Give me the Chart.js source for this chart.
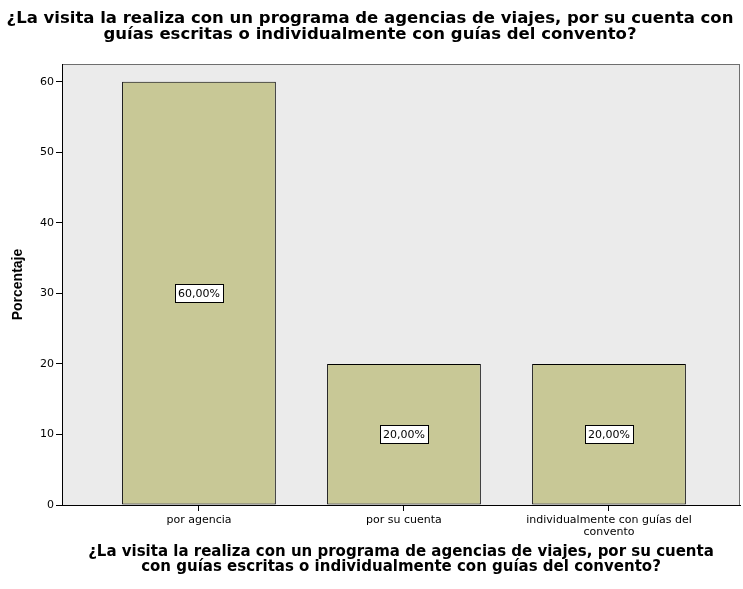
<!DOCTYPE html>
<html lang="es">
<head>
    <meta charset="UTF-8">
    <title>Visita convento</title>
    <script src="https://cdn.jsdelivr.net/npm/chart.js"></script>
    <style>
        html, body { margin: 0; padding: 0; background: #ffffff; }
        #wrap { width: 743px; height: 589px; }
    </style>
</head>
<body>
    <div id="wrap"><canvas id="chart" width="743" height="589"></canvas></div>

    <script>
        // Datos
        const categories = [
            'por agencia',
            'por su cuenta',
            ['individualmente con guías del', 'convento']
        ];
        const percentages = [60, 20, 20];
        const valueLabels = ['60,00%', '20,00%', '20,00%'];
        const yTicks = [0, 10, 20, 30, 40, 50, 60];

        const FONT = '"DejaVu Sans", "Liberation Sans", Arial, sans-serif';
        const BOLD_FONT = '"Liberation Sans", Arial, sans-serif';

        // Fondo gris del área de trazado
        const plotBackground = {
            id: 'plotBackground',
            beforeDraw(chart) {
                const { ctx, chartArea: a } = chart;
                ctx.save();
                ctx.fillStyle = '#ebebeb';
                ctx.fillRect(a.left, a.top, a.right - a.left, a.bottom - a.top);
                ctx.strokeStyle = '#6e6e6e';
                ctx.lineWidth = 1;
                ctx.strokeRect(a.left + 0.5, a.top + 0.5, a.right - a.left - 1, a.bottom - a.top);
                ctx.restore();
            }
        };

        // Etiquetas de porcentaje en cajas blancas en el centro de cada barra
        const boxLabels = {
            id: 'boxLabels',
            afterDatasetsDraw(chart) {
                const { ctx } = chart;
                const meta = chart.getDatasetMeta(0);
                ctx.save();
                ctx.font = '11px ' + FONT;
                ctx.textAlign = 'center';
                ctx.textBaseline = 'middle';
                meta.data.forEach((bar, i) => {
                    const cx = bar.x;
                    const cy = (bar.y + bar.base) / 2;
                    const text = valueLabels[i];
                    const w = Math.round(ctx.measureText(text).width + 6);
                    const h = 18;
                    const x0 = Math.round(cx - w / 2) + 0.5;
                    const y0 = Math.round(cy - h / 2) + 0.5;
                    ctx.fillStyle = '#ffffff';
                    ctx.fillRect(x0, y0, w, h);
                    ctx.strokeStyle = '#000000';
                    ctx.lineWidth = 1;
                    ctx.strokeRect(x0, y0, w, h);
                    ctx.fillStyle = '#000000';
                    ctx.fillText(text, cx, cy + 1);
                });
                ctx.restore();
            }
        };

        new Chart(document.getElementById('chart').getContext('2d'), {
            type: 'bar',
            data: {
                datasets: [{
                    data: percentages.map((v, i) => ({ x: i, y: v })),
                    backgroundColor: '#c8c896',
                    borderColor: '#000000',
                    borderWidth: 1,
                    borderSkipped: false,
                    categoryPercentage: 1,
                    barPercentage: 0.75
                }]
            },
            options: {
                responsive: false,
                animation: false,
                layout: { padding: { left: 0, right: 3, top: 0, bottom: 0 } },
                plugins: {
                    legend: { display: false },
                    tooltip: { enabled: false },
                    title: {
                        display: true,
                        text: ['¿La visita la realiza con un programa de agencias de viajes, por su cuenta con',
                               'guías escritas o individualmente con guías del convento?'],
                        color: '#000000',
                        font: { family: FONT, size: 16.5, weight: 'bold', lineHeight: 0.97 },
                        padding: { top: 11, bottom: 21 }
                    }
                },
                scales: {
                    x: {
                        type: 'linear',
                        offset: false,
                        min: -0.668,
                        max: 2.639,
                        afterBuildTicks(scale) {
                            scale.ticks = categories.map((c, i) => ({ value: i }));
                        },
                        afterFit(scale) { scale.height = 84; },
                        ticks: {
                            color: '#000000',
                            font: { family: FONT, size: 11, lineHeight: 1.1 },
                            padding: 3,
                            maxRotation: 0,
                            autoSkip: false,
                            callback: (v) => categories[v]
                        },
                        grid: {
                            offset: false,
                            drawOnChartArea: false,
                            color: '#000000',
                            tickLength: 6
                        },
                        border: { color: '#000000', width: 1 },
                        title: {
                            display: true,
                            text: ['¿La visita la realiza con un programa de agencias de viajes, por su cuenta',
                                   'con guías escritas o individualmente con guías del convento?'],
                            color: '#000000',
                            font: { family: FONT, size: 15, weight: 'bold', lineHeight: 1.0 },
                            padding: { top: 0, bottom: 14 }
                        }
                    },
                    y: {
                        min: 0,
                        max: 62.5,
                        afterBuildTicks(scale) {
                            scale.ticks = yTicks.map(v => ({ value: v }));
                        },
                        afterFit(scale) { scale.width = 62; },
                        ticks: {
                            color: '#000000',
                            font: { family: FONT, size: 11 },
                            padding: 2
                        },
                        grid: {
                            drawOnChartArea: false,
                            color: '#000000',
                            tickLength: 6
                        },
                        border: { color: '#000000', width: 1 },
                        title: {
                            display: true,
                            text: 'Porcentaje',
                            color: '#000000',
                            font: { family: BOLD_FONT, size: 14, weight: 'bold' },
                            padding: { top: 10, bottom: 4 }
                        }
                    }
                }
            },
            plugins: [plotBackground, boxLabels]
        });
    </script>
</body>
</html>
